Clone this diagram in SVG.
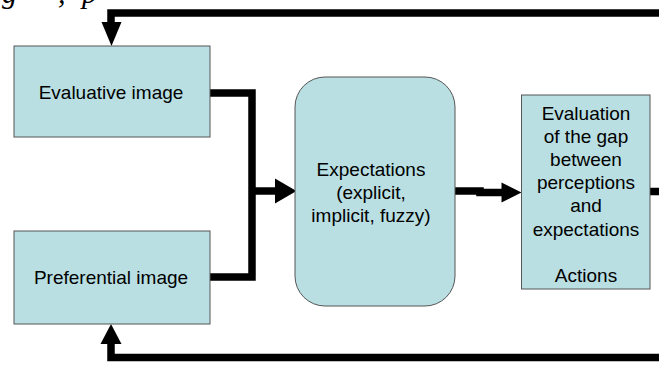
<svg xmlns="http://www.w3.org/2000/svg" width="659" height="365" viewBox="0 0 659 365">
<style>
.box{fill:#B9DFE3;stroke:#555;stroke-width:1}
.lbl{font-family:"Liberation Sans",Arial,sans-serif;font-size:19px;fill:#000;text-anchor:middle}
.wire{fill:none;stroke:#000;stroke-width:7.5;stroke-linejoin:miter;stroke-linecap:butt}
.head{fill:#000}
.cap{font-family:"Liberation Serif","Times New Roman",serif;font-size:30px;font-style:italic;fill:#000}
</style>
<rect width="659" height="365" fill="#fff"/>
<text class="cap" y="3"><tspan x="2">g</tspan><tspan x="58">,</tspan><tspan x="82">p</tspan></text>
<g id="connectors">
<path class="wire" d="M659 13 H111 V24"/>
<polygon class="head" points="101.5,22 121.5,22 111.5,46"/>
<path class="wire" d="M659 357.5 H111 V342"/>
<polygon class="head" points="100.5,344 121.5,344 111,324"/>
<path class="wire" d="M210 93 H252 V277 H210"/>
<path class="wire" d="M252 191 H277"/>
<polygon class="head" points="275,178.5 275,203.5 296.5,191"/>
<path class="wire" d="M455 191 H480 V192.5 H503"/>
<polygon class="head" points="501.5,182.5 501.5,202.5 521.5,192.5"/>
<path class="wire" d="M650 191.5 H659"/>
</g>
<g id="evaluative">
<rect class="box" x="14" y="46" width="196" height="91"/>
<text class="lbl" x="111" y="98.5">Evaluative image</text>
</g>
<g id="preferential">
<rect class="box" x="14" y="231" width="196" height="93"/>
<text class="lbl" x="111" y="284">Preferential image</text>
</g>
<g id="expectations">
<rect class="box" x="295" y="77" width="160" height="229" rx="30" ry="30"/>
<text class="lbl" x="371" y="175.5">Expectations</text>
<text class="lbl" x="371" y="198.5">(explicit,</text>
<text class="lbl" x="371" y="221.5">implicit, fuzzy)</text>
</g>
<g id="evaluation">
<rect class="box" x="521.5" y="95" width="128.5" height="194"/>
<text class="lbl" x="586" y="119.5">Evaluation</text>
<text class="lbl" x="586" y="142.7">of the gap</text>
<text class="lbl" x="586" y="165.9">between</text>
<text class="lbl" x="586" y="189.1">perceptions</text>
<text class="lbl" x="586" y="212.3">and</text>
<text class="lbl" x="586" y="235.5">expectations</text>
<text class="lbl" x="586" y="281.5">Actions</text>
</g>
</svg>
